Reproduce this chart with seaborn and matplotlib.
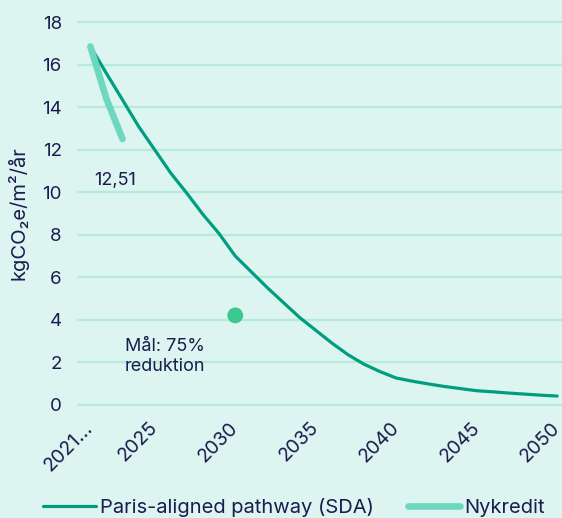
import pandas as pd
import matplotlib.pyplot as plt
import seaborn as sns

# data
years = list(range(2021, 2051))
sda = [16.87, 15.6, 14.35, 13.1, 12.0, 10.9, 9.95, 8.95, 8.05, 7.0,
       6.25, 5.5, 4.8, 4.1, 3.5, 2.9, 2.35, 1.9, 1.55, 1.25,
       1.1, 0.97, 0.85, 0.75, 0.65, 0.6, 0.54, 0.49, 0.44, 0.4]
nyk_years = [2021, 2022, 2023]
nyk = [16.87, 14.4, 12.51]
goal_year = [2030]
goal_val = [4.2]
tick_years = [2021, 2025, 2030, 2035, 2040, 2045, 2050]
tick_labels = ["2021...", "2025", "2030", "2035", "2040", "2045", "2050"]
yticks = [0, 2, 4, 6, 8, 10, 12, 14, 16, 18]

bg = "#DDF5F0"
grid_c = "#B6EBDC"
dark = "#1B1C4F"
sda_c = "#009E80"
nyk_c = "#6DD8BF"
dot_c = "#3CC98F"

sns.set_theme(style="white")
plt.rcParams['font.family'] = ['Inter', 'DejaVu Sans']

df_sda = pd.DataFrame({'year': years, 'val': sda})
df_nyk = pd.DataFrame({'year': nyk_years, 'val': nyk})
df_goal = pd.DataFrame({'year': goal_year, 'val': goal_val})

fig = plt.figure(figsize=(5.62, 5.18), dpi=100, facecolor=bg)
ax = fig.add_axes([0.137, 0.217, 0.863, 0.7437])
ax.set_facecolor(bg)

for y in yticks:
    ax.axhline(y, color=grid_c, lw=1.6, zorder=0)

sns.lineplot(data=df_sda, x='year', y='val', ax=ax, color=sda_c, lw=2.3,
             label="Paris-aligned pathway (SDA)", zorder=3)
sns.lineplot(data=df_nyk, x='year', y='val', ax=ax, color=nyk_c, lw=4.8,
             solid_capstyle='round', label="Nykredit", zorder=4)
sns.scatterplot(data=df_goal, x='year', y='val', ax=ax, color=dot_c, s=130,
                edgecolor='none', zorder=5, legend=False)

ax.text(2021.25, 10.55, "12,51", fontsize=13, color=dark, va='center', ha='left')
ax.text(2025.65, 2.25, "Mål: 75%\nreduktion", fontsize=13, color=dark,
        va='center', ha='center', linespacing=1.25)

ax.set_xlim(2020.17, 2050.3)
ax.set_ylim(-0.05, 18.1)
ax.set_yticks(yticks)
ax.set_yticklabels([str(v) for v in yticks], fontsize=13.5, color=dark)
ax.set_xticks(tick_years)
ax.set_xticklabels(tick_labels, fontsize=14, color=dark, rotation=45,
                   ha='right', va='center', rotation_mode='anchor')
ax.tick_params(axis='both', length=0)
ax.tick_params(axis='y', pad=11)
ax.tick_params(axis='x', pad=14)
ax.set_xlabel("")
ax.set_ylabel("kgCO₂e/m²/år", fontsize=14.5, color=dark, labelpad=10)
for s in ax.spines.values():
    s.set_visible(False)

h, l = ax.get_legend_handles_labels()
ax.legend_.remove()
fig.legend(h, l, loc='center', bbox_to_anchor=(0.523, 0.021), ncol=2,
           frameon=False, fontsize=14.5, handlelength=2.6, handletextpad=0.2,
           columnspacing=1.7, labelcolor=dark)

fig.savefig("out.png", dpi=100, facecolor=bg)
